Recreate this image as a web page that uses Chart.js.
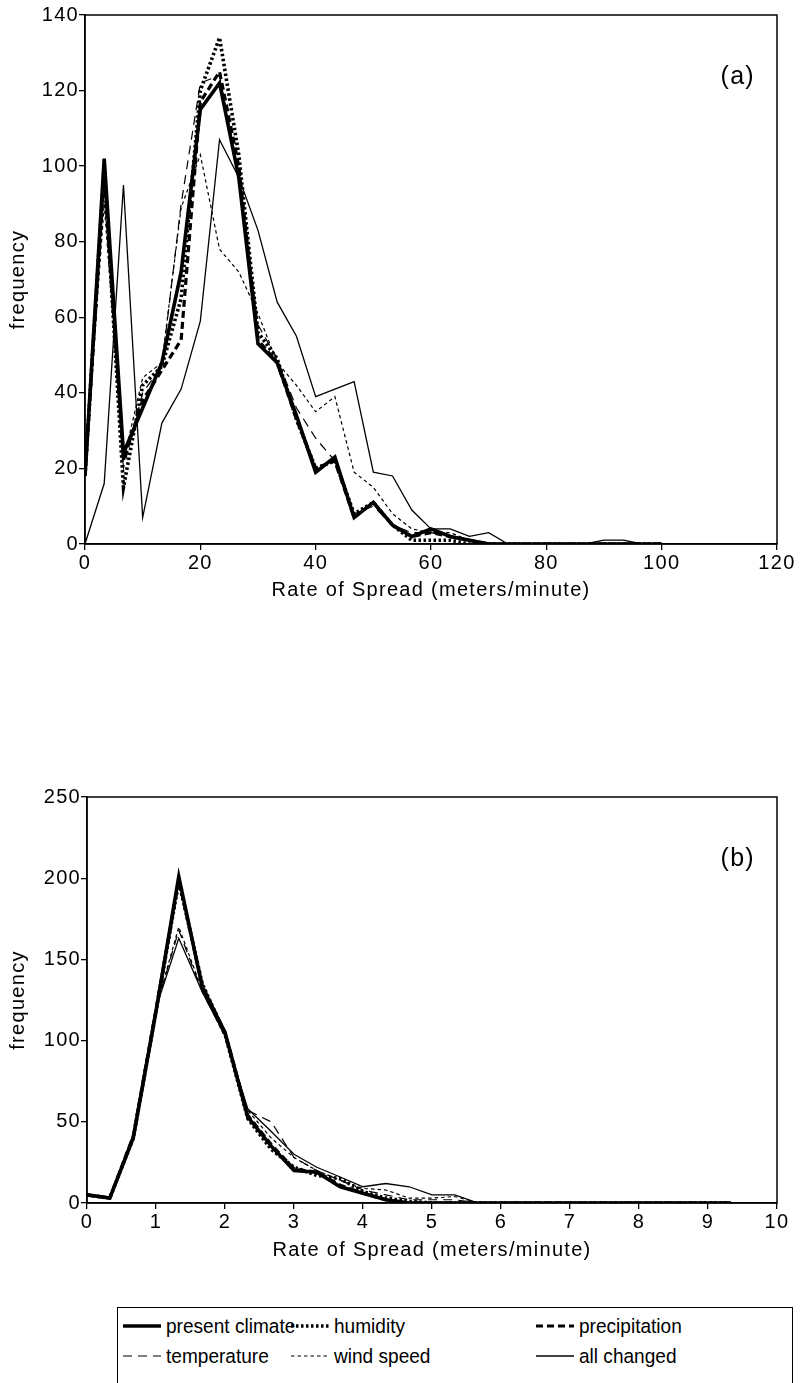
<!DOCTYPE html>
<html>
<head>
<meta charset="utf-8">
<script src="https://cdn.jsdelivr.net/npm/chart.js@4.4.1/dist/chart.umd.min.js"></script>
<style>
  body { margin: 0; background: #fff; width: 800px; height: 1383px; position: relative; overflow: hidden;
         font-family: "Liberation Sans", Arial, sans-serif; color: #000; }
  #wrapA { position: absolute; left: 0; top: 0; width: 800px; height: 620px; }
  #wrapB { position: absolute; left: 0; top: 760px; width: 800px; height: 520px; }
  .legend { position: absolute; left: 117px; top: 1307px; width: 674px; height: 100px; border: 1.5px solid #000; }
  .item { position: absolute; height: 24px; display: flex; align-items: center; white-space: nowrap; }
  .item canvas { margin-right: 5px; }
  .item span { font-size: 20.5px; display: inline-block; transform: scaleX(0.93); transform-origin: left center; }
</style>
</head>
<body>
<div id="wrapA"><canvas id="chartA"></canvas></div>
<div id="wrapB"><canvas id="chartB"></canvas></div>
<div class="legend" id="legend"></div>

<script>
// ---- panel (a): rate of spread 0-100 m/min ----
const xA = [0, 3.33, 6.67, 10, 13.33, 16.67, 20, 23.33, 26.67, 30, 33.33, 36.67, 40, 43.33, 46.67, 50,
            53.33, 56.67, 60, 63.33, 66.67, 70, 73.33, 76.67, 80, 83.33, 86.67, 90, 93.33, 96.67, 100];
const presentA  = [18, 102, 24, 36, 48, 72, 115, 122, 97, 53, 48, 34, 19, 23, 7, 11, 5, 2, 4, 2, 1, 0, 0, 0, 0, 0, 0, 0, 0, 0, 0];
const humidityA = [18, 100, 15, 42, 47, 65, 120, 134, 103, 56, 49, 33, 20, 22, 8, 11, 5, 1, 1, 1, 0, 0, 0, 0, 0, 0, 0, 0, 0, 0, 0];
const precipA   = [18, 98, 22, 38, 46, 54, 117, 125, 100, 54, 48, 33, 20, 22, 7, 11, 5, 2, 3, 2, 1, 0, 0, 0, 0, 0, 0, 0, 0, 0, 0];
const tempA     = [18, 95, 20, 40, 47, 90, 122, 124, 98, 58, 49, 36, 28, 22, 8, 10, 5, 3, 3, 2, 1, 0, 0, 0, 0, 0, 0, 0, 0, 0, 0];
const windA     = [18, 90, 22, 44, 48, 89, 103, 78, 72, 61, 48, 42, 35, 39, 19, 15, 8, 4, 3, 3, 1, 0, 0, 0, 0, 0, 0, 0, 0, 0, 0];
const allA      = [0, 16, 95, 7, 32, 41, 59, 107, 97, 83, 64, 55, 39, 41, 43, 19, 18, 9, 4, 4, 2, 3, 0, 0, 0, 0, 0, 1, 1, 0, 0];

// ---- panel (b): rate of spread 0-10 m/min ----
const xB = [0, 0.33, 0.67, 1, 1.33, 1.67, 2, 2.33, 2.67, 3, 3.33, 3.67, 4, 4.33, 4.67, 5,
            5.33, 5.67, 6, 6.33, 6.67, 7, 7.33, 7.67, 8, 8.33, 8.67, 9, 9.33];
const presentB  = [5, 3, 40, 118, 201, 133, 105, 53, 35, 20, 19, 10, 6, 2, 0, 0, 0, 0, 0, 0, 0, 0, 0, 0, 0, 0, 0, 0, 0];
const humidityB = [5, 3, 40, 118, 198, 135, 104, 52, 33, 22, 17, 15, 7, 3, 1, 0, 0, 0, 0, 0, 0, 0, 0, 0, 0, 0, 0, 0, 0];
const precipB   = [5, 3, 41, 119, 199, 134, 105, 54, 36, 21, 19, 11, 6, 2, 0, 0, 0, 0, 0, 0, 0, 0, 0, 0, 0, 0, 0, 0, 0];
const tempB     = [5, 3, 42, 120, 168, 130, 103, 57, 50, 28, 20, 14, 8, 5, 2, 2, 2, 0, 0, 0, 0, 0, 0, 0, 0, 0, 0, 0, 0];
const windB     = [5, 3, 42, 120, 170, 131, 102, 57, 40, 28, 20, 14, 9, 8, 3, 3, 4, 0, 0, 0, 0, 0, 0, 0, 0, 0, 0, 0, 0];
const allB      = [5, 3, 42, 120, 163, 130, 103, 58, 44, 30, 22, 16, 10, 12, 10, 5, 5, 0, 0, 0, 0, 0, 0, 0, 0, 0, 0, 0, 0];

const seriesNames = ['present climate', 'humidity', 'precipitation', 'temperature', 'wind speed', 'all changed'];
const ticksA = [0, 20, 40, 60, 80, 100, 120];
const ticksB = [0, 1, 2, 3, 4, 5, 6, 7, 8, 9, 10];

// line look per series (same order as seriesNames)
const STYLES = [
  { width: 3.6, dash: [] },
  { width: 3.6, dash: [2.5, 2.5] },
  { width: 3.2, dash: [7, 4] },
  { width: 1.2, dash: [9, 6] },
  { width: 1.2, dash: [3.5, 3] },
  { width: 1.3, dash: [] },
];

const FONT = '"Liberation Sans", Arial, sans-serif';
const SPACING = '1.3px';

const pts = (xs, ys) => xs.map((x, i) => ({ x, y: ys[i] }));

// scanned-figure lettering is spaced a bit wider than plain Arial
const spacingPlugin = {
  id: 'spacing',
  beforeLayout(chart) { chart.ctx.letterSpacing = SPACING; },
  beforeDraw(chart) { chart.ctx.letterSpacing = SPACING; }
};

const framePlugin = {
  id: 'frame',
  afterDraw(chart, args, opts) {
    const { ctx, chartArea: a } = chart;
    ctx.save();
    ctx.strokeStyle = '#000';
    ctx.lineWidth = 1.5;
    ctx.strokeRect(a.left, a.top, a.right - a.left, a.bottom - a.top);
    ctx.font = '25px ' + FONT;
    ctx.fillStyle = '#000';
    ctx.textAlign = 'right';
    ctx.textBaseline = 'middle';
    ctx.fillText(opts.text, a.right - 22, a.top + 62);
    ctx.restore();
  }
};

function makeChart(id, xs, series, xMax, yMax, yStep, tickVals, pad, yWidth, xHeight, label) {
  return new Chart(document.getElementById(id), {
    type: 'line',
    data: {
      datasets: series.map((ys, i) => ({
        label: seriesNames[i],
        data: pts(xs, ys),
        borderColor: '#000',
        borderWidth: STYLES[i].width,
        borderDash: STYLES[i].dash,
        pointRadius: 0,
        tension: 0,
        fill: false,
      }))
    },
    options: {
      responsive: true, maintainAspectRatio: false, animation: false,
      layout: { padding: pad },
      plugins: { legend: { display: false }, tooltip: { enabled: false }, frame: { text: label } },
      scales: {
        x: {
          type: 'linear', min: 0, max: xMax,
          afterBuildTicks: s => { s.ticks = tickVals.map(v => ({ value: v })); },
          afterFit: s => { s.height = xHeight; },
          ticks: { color: '#000', font: { family: FONT, size: 20 }, padding: 1, maxRotation: 0 },
          grid: { drawOnChartArea: false, drawTicks: true, tickLength: 6, color: '#000', lineWidth: 1.3 },
          border: { color: '#000', width: 1.5 },
          title: { display: true, text: 'Rate of Spread (meters/minute)', color: '#000',
                   font: { family: FONT, size: 20 }, padding: { top: 0, bottom: 18 } }
        },
        y: {
          min: 0, max: yMax,
          ticks: { stepSize: yStep, color: '#000', font: { family: FONT, size: 20 }, padding: 0 },
          afterFit: s => { s.width = yWidth; },
          grid: { drawOnChartArea: false, drawTicks: true, tickLength: 6, color: '#000', lineWidth: 1.3 },
          border: { color: '#000', width: 1.5 },
          title: { display: true, text: 'frequency', color: '#000',
                   font: { family: FONT, size: 20 }, padding: { top: 6, bottom: 0 } }
        }
      }
    },
    plugins: [spacingPlugin, framePlugin]
  });
}

makeChart('chartA', xA, [presentA, humidityA, precipA, tempA, windA, allA],
  120, 140, 20, ticksA, { top: 15, right: 23, left: 0, bottom: 0 }, 85, 76, '(a)');
makeChart('chartB', xB, [presentB, humidityB, precipB, tempB, windB, allB],
  10, 250, 50, ticksB, { top: 37, right: 23, left: 0, bottom: 0 }, 87, 77, '(b)');

// legend box: 3 columns x 2 rows, line samples drawn on small canvases
const legendPos = [
  [5, 6], [173, 6], [418, 6],
  [5, 36], [173, 36], [418, 36],
];
const legend = document.getElementById('legend');
seriesNames.forEach((name, i) => {
  const item = document.createElement('div');
  item.className = 'item';
  item.style.left = legendPos[i][0] + 'px';
  item.style.top = legendPos[i][1] + 'px';
  const c = document.createElement('canvas');
  c.width = 38; c.height = 12;
  const g = c.getContext('2d');
  g.strokeStyle = '#000';
  g.lineWidth = STYLES[i].width;
  g.setLineDash(STYLES[i].dash);
  g.beginPath(); g.moveTo(0, 6); g.lineTo(38, 6); g.stroke();
  item.appendChild(c);
  const t = document.createElement('span');
  t.textContent = name;
  item.appendChild(t);
  legend.appendChild(item);
});
</script>
</body>
</html>
